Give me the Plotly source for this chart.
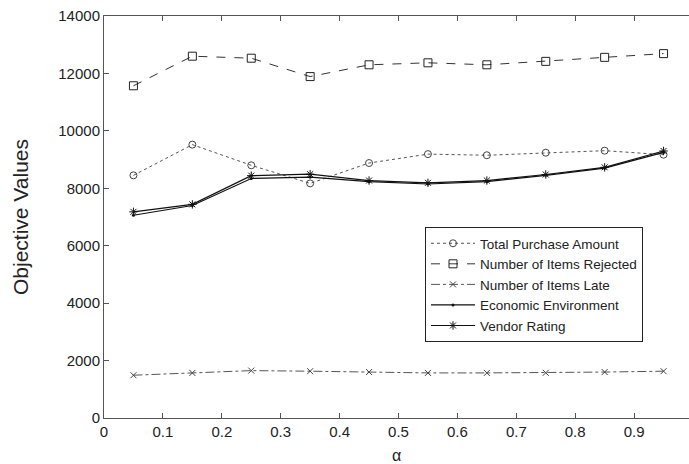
import plotly.graph_objects as go

alpha = [0.05, 0.15, 0.25, 0.35, 0.45, 0.55, 0.65, 0.75, 0.85, 0.95]
total_purchase = [8450, 9520, 8800, 8170, 8880, 9190, 9150, 9240, 9310, 9170]
items_rejected = [11570, 12600, 12530, 11890, 12300, 12370, 12300, 12420, 12560, 12690]
items_late = [1490, 1570, 1650, 1630, 1600, 1570, 1570, 1575, 1600, 1630]
economic_env = [7060, 7400, 8340, 8390, 8230, 8150, 8230, 8450, 8700, 9250]
vendor_rating = [7180, 7440, 8440, 8490, 8270, 8190, 8270, 8480, 8730, 9300]

x_ticks = [0, 0.1, 0.2, 0.3, 0.4, 0.5, 0.6, 0.7, 0.8, 0.9]
x_labels = ["0", "0.1", "0.2", "0.3", "0.4", "0.5", "0.6", "0.7", "0.8", "0.9"]
y_ticks = [0, 2000, 4000, 6000, 8000, 10000, 12000, 14000]
y_labels = ["0", "2000", "4000", "6000", "8000", "10000", "12000", "14000"]

FONT = "Arial, 'Liberation Sans', Helvetica, sans-serif"

fig = go.Figure()
fig.add_trace(go.Scatter(
    x=alpha, y=total_purchase, name="Total Purchase Amount", mode="lines+markers",
    line=dict(color="#555555", width=1, dash="dot"),
    marker=dict(symbol="circle-open", size=7, color="#444444", line=dict(width=1))))
fig.add_trace(go.Scatter(
    x=alpha, y=items_rejected, name="Number of Items Rejected", mode="lines+markers",
    line=dict(color="#333333", width=1, dash="dash"),
    marker=dict(symbol="square-open", size=8, color="#222222", line=dict(width=1))))
fig.add_trace(go.Scatter(
    x=alpha, y=items_late, name="Number of Items Late", mode="lines+markers",
    line=dict(color="#555555", width=1, dash="dashdot"),
    marker=dict(symbol="x-thin-open", size=6, color="#444444", line=dict(width=1, color="#444444"))))
fig.add_trace(go.Scatter(
    x=alpha, y=economic_env, name="Economic Environment", mode="lines+markers",
    line=dict(color="#111111", width=1.2),
    marker=dict(symbol="circle", size=3, color="#111111")))
fig.add_trace(go.Scatter(
    x=alpha, y=vendor_rating, name="Vendor Rating", mode="lines+markers",
    line=dict(color="#111111", width=1.2),
    marker=dict(symbol="asterisk-open", size=7, color="#111111", line=dict(width=1, color="#111111"))))

W, H = 689, 464
left, top, bottom = 104, 16, 418
xmax = (W - left) / 589.0

fig.update_layout(
    width=W, height=H,
    margin=dict(l=left, r=0, t=top, b=H - bottom),
    paper_bgcolor="white", plot_bgcolor="white",
    font=dict(family=FONT, size=15, color="#222222"),
    showlegend=True,
    legend=dict(
        x=(425 - left) / (W - left), y=(bottom - 227) / (bottom - top),
        xanchor="left", yanchor="top",
        bordercolor="#222222", borderwidth=1, bgcolor="white",
        font=dict(family=FONT, size=13.5, color="#222222"),
        tracegroupgap=0, itemwidth=44),
    xaxis=dict(
        range=[0, xmax], tickvals=x_ticks, ticktext=x_labels,
        showgrid=False, zeroline=False, showline=True, linecolor="#555555", linewidth=1,
        mirror="ticks", ticks="inside", ticklen=5, tickcolor="#555555",
        title=dict(text="α", standoff=14, font=dict(size=16))),
    yaxis=dict(
        range=[0, 14000], tickvals=y_ticks, ticktext=y_labels,
        showgrid=False, zeroline=False, showline=True, linecolor="#555555", linewidth=1,
        ticks="inside", ticklen=5, tickcolor="#555555",
        title=dict(text="Objective Values", standoff=23, font=dict(size=21))),
    yaxis2=dict(
        range=[0, 14000], tickvals=y_ticks, overlaying="y", side="right",
        anchor="free", position=1, showticklabels=False, showgrid=False,
        zeroline=False, showline=False, ticks="inside", ticklen=5, tickcolor="#555555"),
)

fig.write_html("out.html")
